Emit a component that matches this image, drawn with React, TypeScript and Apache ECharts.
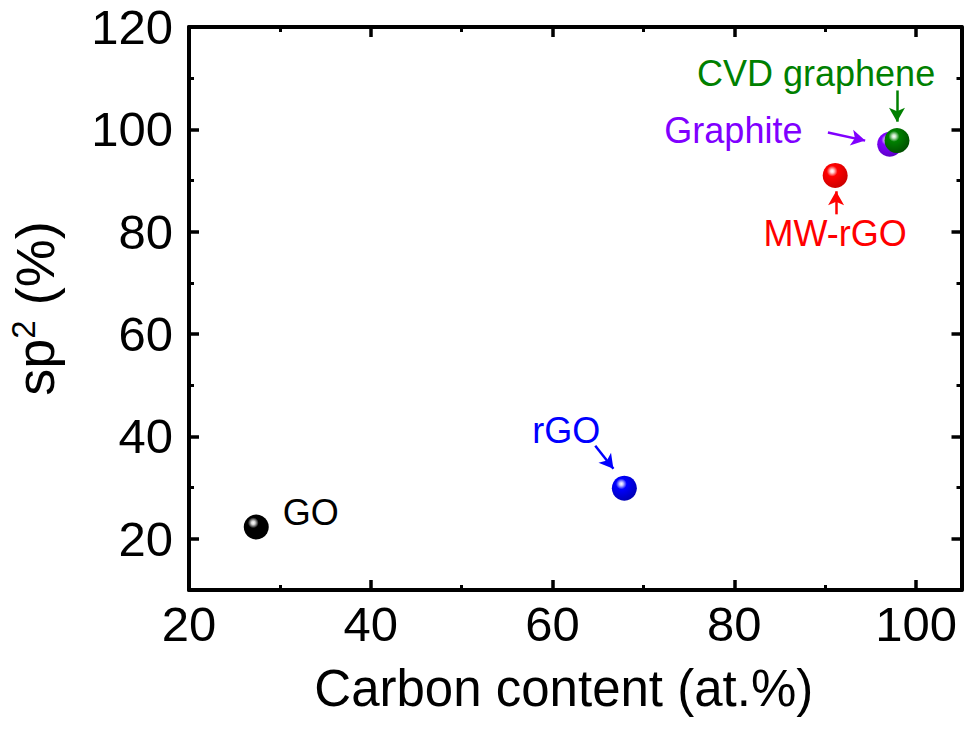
import React, { useEffect, useRef } from "react";
import * as echarts from "echarts";

const samples = ["GO", "rGO", "MW-rGO", "Graphite", "CVD graphene"];
const carbonContent = [27.4, 67.9, 91.1, 97.1, 97.9];
const sp2Fraction = [22.3, 29.9, 91.0, 97.1, 97.8];
const sampleColors = ["#000000", "#0000ff", "#ff0000", "#8000ff", "#008000"];
const sphereLight = ["#d8d8d8", "#c8c8ff", "#ffd0d0", "#e8d0ff", "#c8e8c8"];
const sphereDark = ["#000000", "#0000b0", "#c80000", "#5800c0", "#004c00"];

// annotation label anchors (data units)
const labelX = [33.4, 61.5, 91.1, 79.9, 89.0];
const labelY = [25.1, 41.1, 79.7, 99.8, 110.9];
// arrows (data units), null for none
const arrowFrom: (number[] | null)[] = [null, [64.7, 38.2], [91.2, 83.4], [90.3, 99.4], [97.9, 107.6]];
const arrowTo: (number[] | null)[] = [null, [66.7, 33.7], [91.2, 87.9], [94.4, 97.8], [97.9, 101.5]];

const xMajorTicks = [20, 40, 60, 80, 100];
const xMinorTicks = [30, 50, 70, 90];
const yMajorTicks = [20, 40, 60, 80, 100, 120];
const yMinorTicks = [30, 50, 70, 90, 110];
const xRange = [20, 105];
const yRange = [10, 120];

const FONT = "'Liberation Sans', Arial, Helvetica, sans-serif";

export default function App() {
  const ref = useRef<HTMLDivElement>(null);
  useEffect(() => {
    if (!ref.current) return;
    const chart = echarts.init(ref.current, null, { renderer: "svg" });
    const grid = { left: 189, right: 2.5, top: 27, bottom: 140, containLabel: false, outerBoundsMode: "none" };
    const lineStyle = { color: "#000", width: 4 };
    const mkX = (gridIndex: number, position: string, ticks: number[], major: boolean, labels: boolean, extra: any = {}) => ({
      type: "value",
      gridIndex,
      position,
      min: xRange[0],
      max: xRange[1],
      axisLine: { show: major, onZero: false, lineStyle },
      axisTick: { show: true, inside: true, length: major ? 10 : 5, customValues: ticks, lineStyle: { color: "#000", width: major ? 3.5 : 3 } },
      axisLabel: { show: labels, customValues: ticks, color: "#000", fontSize: 49, fontFamily: FONT, margin: 9 },
      splitLine: { show: false },
      ...extra,
    });
    const mkY = (gridIndex: number, position: string, ticks: number[], major: boolean, labels: boolean, extra: any = {}) => ({
      type: "value",
      gridIndex,
      position,
      min: yRange[0],
      max: yRange[1],
      axisLine: { show: major, onZero: false, lineStyle },
      axisTick: { show: true, inside: true, length: major ? 10 : 5, customValues: ticks, lineStyle: { color: "#000", width: major ? 3.5 : 3 } },
      axisLabel: { show: labels, customValues: ticks, color: "#000", fontSize: 49, fontFamily: FONT, margin: 16 },
      splitLine: { show: false },
      ...extra,
    });

    const points = samples.map((name, i) => ({
      name,
      value: [carbonContent[i], sp2Fraction[i]],
      itemStyle: {
        opacity: 1,
        color: {
          type: "radial",
          x: 0.38,
          y: 0.33,
          r: 0.72,
          colorStops: [
            { offset: 0, color: "#ffffff" },
            { offset: 0.1, color: sphereLight[i] },
            { offset: 0.3, color: sampleColors[i] },
            { offset: 1, color: sphereDark[i] },
          ],
        },
      },
    }));

    const labelData = samples.map((name, i) => ({
      name,
      value: [labelX[i], labelY[i]],
      label: { color: sampleColors[i] },
    }));

    const arrowData: any[] = [];
    samples.forEach((_, i) => {
      const f = arrowFrom[i];
      const t = arrowTo[i];
      if (f && t) {
        arrowData.push([
          { coord: f, lineStyle: { color: sampleColors[i], width: 2.5, type: "solid", opacity: 1 } },
          { coord: t },
        ]);
      }
    });

    chart.setOption({
      animation: false,
      backgroundColor: "#fff",
      grid: [grid, grid],
      xAxis: [
        mkX(0, "bottom", xMajorTicks, true, true, {
          name: "Carbon content (at.%)",
          nameLocation: "middle",
          nameGap: 73,
          nameTextStyle: { fontSize: 51, fontFamily: FONT, color: "#000", padding: [0, 23, 0, 0] },
        }),
        mkX(0, "top", xMajorTicks, true, false),
        mkX(1, "bottom", xMinorTicks, false, false),
        mkX(1, "top", xMinorTicks, false, false),
      ],
      yAxis: [
        mkY(0, "left", yMajorTicks, true, true, {
          name: "{a|sp}{b|2}{a| (%)}",
          nameLocation: "middle",
          nameGap: 126,
          nameTextStyle: {
            rich: {
              a: { fontSize: 54, fontFamily: FONT, color: "#000", lineHeight: 56 },
              b: { fontSize: 33, fontFamily: FONT, color: "#000", lineHeight: 34, verticalAlign: "top" },
            },
          },
        }),
        mkY(0, "right", yMajorTicks, true, false),
        mkY(1, "left", yMinorTicks, false, false),
        mkY(1, "right", yMinorTicks, false, false),
      ],
      series: [
        {
          type: "scatter",
          xAxisIndex: 0,
          yAxisIndex: 0,
          symbol: "circle",
          symbolSize: 25,
          itemStyle: { opacity: 1 },
          data: points,
          z: 3,
        },
        {
          type: "scatter",
          xAxisIndex: 0,
          yAxisIndex: 0,
          symbolSize: 0,
          silent: true,
          z: 4,
          itemStyle: { opacity: 1 },
          label: {
            show: true,
            position: "inside",
            formatter: "{b}",
            fontSize: 36,
            fontFamily: FONT,
          },
          data: labelData,
          markLine: {
            silent: true,
            symbol: ["none", "arrow"],
            symbolSize: [12, 14],
            label: { show: false },
            data: arrowData,
          },
        },
      ],
    });
    return () => chart.dispose();
  }, []);
  return <div ref={ref} style={{ position: "fixed", left: 0, top: 0, width: 964, height: 730 }} />;
}
